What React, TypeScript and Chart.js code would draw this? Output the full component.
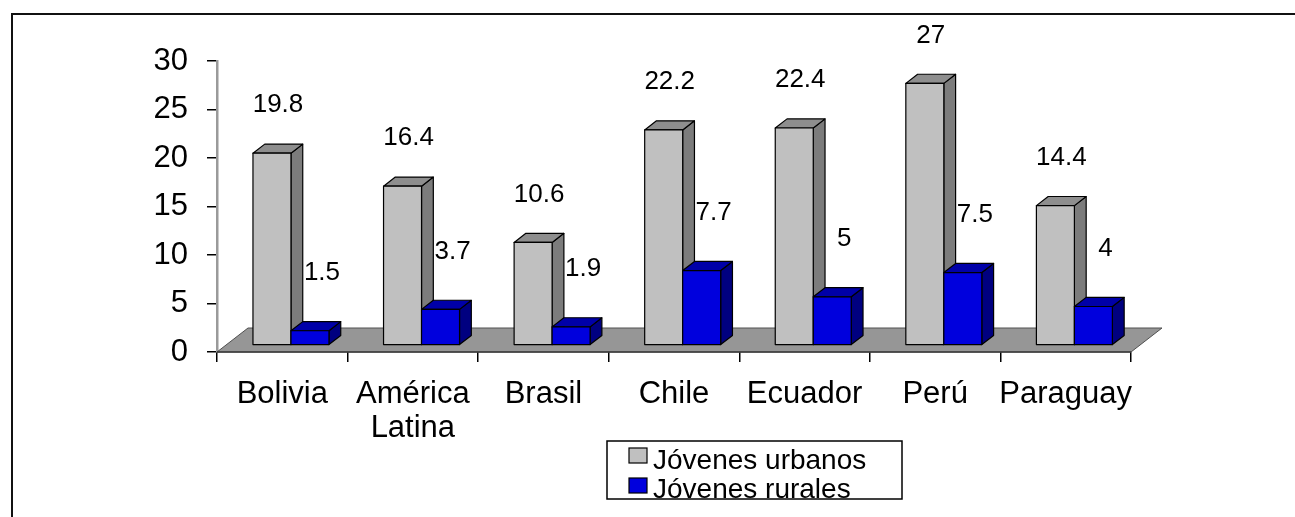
import React, { useEffect, useRef } from 'react';
import { Chart, registerables } from 'chart.js';

Chart.register(...registerables);

// ---- data ----
const categories: (string | string[])[] = ['Bolivia', ['América', 'Latina'], 'Brasil', 'Chile', 'Ecuador', 'Perú', 'Paraguay'];
const urbanos = [19.8, 16.4, 10.6, 22.2, 22.4, 27, 14.4];
const rurales = [1.5, 3.7, 1.9, 7.7, 5, 7.5, 4];
const yTicks = [0, 5, 10, 15, 20, 25, 30];
const seriesNames = ['Jóvenes urbanos', 'Jóvenes rurales'];

// ---- styling ----
const FONT = '"Liberation Sans", Arial, sans-serif';
const DEPTH_X = 31;
const DEPTH_Y = -24;
const BAR_FRONT = 0.28;
const BAR_DEPTH = 0.38;
const SHADES = [
  { front: '#C0C0C0', top: '#8E8E8E', side: '#7C7C7C' },
  { front: '#0000DD', top: '#0000A8', side: '#000080' },
];
const LABEL_RISE = [48, 58];
const LABEL_SHIFT = [6, 12];

function poly(ctx: CanvasRenderingContext2D, pts: number[][], fill: string) {
  ctx.beginPath();
  ctx.moveTo(pts[0][0], pts[0][1]);
  for (let i = 1; i < pts.length; i++) ctx.lineTo(pts[i][0], pts[i][1]);
  ctx.closePath();
  ctx.fillStyle = fill;
  ctx.fill();
  ctx.stroke();
}

const bars3d = {
  id: 'bars3d',
  beforeDraw(chart: any) {
    const ctx: CanvasRenderingContext2D = chart.ctx;
    ctx.save();
    ctx.fillStyle = '#ffffff';
    ctx.fillRect(0, 0, chart.width, chart.height);
    ctx.strokeStyle = '#111';
    ctx.lineWidth = 2;
    ctx.beginPath();
    ctx.moveTo(12, chart.height + 5);
    ctx.lineTo(12, 14);
    ctx.lineTo(chart.width + 5, 14);
    ctx.stroke();
    ctx.restore();
  },
  beforeDatasetsDraw(chart: any) {
    const ctx: CanvasRenderingContext2D = chart.ctx;
    const area = chart.chartArea;
    const y0 = chart.scales.y.getPixelForValue(0);
    ctx.save();
    // floor
    ctx.strokeStyle = '#505050';
    ctx.lineWidth = 1;
    poly(ctx, [
      [area.left, y0],
      [area.left + DEPTH_X, y0 + DEPTH_Y],
      [area.right + DEPTH_X, y0 + DEPTH_Y],
      [area.right, y0],
    ], '#969696');
    ctx.lineWidth = 1.5;
    ctx.strokeStyle = '#3a3a3a';
    ctx.beginPath();
    ctx.moveTo(area.left, y0);
    ctx.lineTo(area.right, y0);
    ctx.stroke();

    // bars
    const n = chart.data.labels.length;
    const fx = BAR_FRONT * DEPTH_X;
    const fy = BAR_FRONT * DEPTH_Y;
    const dx = BAR_DEPTH * DEPTH_X;
    const dy = BAR_DEPTH * DEPTH_Y;
    const labels: { x: number; y: number; text: string }[] = [];
    ctx.strokeStyle = '#000';
    ctx.lineWidth = 1.2;
    ctx.lineJoin = 'round';
    for (let i = 0; i < n; i++) {
      for (let d = 0; d < chart.data.datasets.length; d++) {
        const el = chart.getDatasetMeta(d).data[i];
        const p = el.getProps(['x', 'y', 'base', 'width'], true);
        const left = p.x - p.width / 2 + fx;
        const right = p.x + p.width / 2 + fx;
        const top = p.y + fy;
        const bottom = p.base + fy;
        const s = SHADES[d];
        poly(ctx, [[right, bottom], [right + dx, bottom + dy], [right + dx, top + dy], [right, top]], s.side);
        poly(ctx, [[left, top], [left + dx, top + dy], [right + dx, top + dy], [right, top]], s.top);
        poly(ctx, [[left, bottom], [left, top], [right, top], [right, bottom]], s.front);
        labels.push({
          x: (left + right) / 2 + LABEL_SHIFT[d],
          y: top - LABEL_RISE[d],
          text: String(chart.data.datasets[d].data[i]),
        });
      }
    }
    ctx.fillStyle = '#000';
    ctx.font = `26px ${FONT}`;
    ctx.textAlign = 'center';
    ctx.textBaseline = 'middle';
    labels.forEach((l) => ctx.fillText(l.text, l.x, l.y));
    ctx.restore();
    return false;
  },
  afterDraw(chart: any) {
    const ctx: CanvasRenderingContext2D = chart.ctx;
    ctx.save();
    // legend box
    const bx = 607, by = 441, bw = 295, bh = 58;
    ctx.strokeStyle = '#000';
    ctx.lineWidth = 1.5;
    ctx.strokeRect(bx, by, bw, bh);
    ctx.font = `28px ${FONT}`;
    ctx.textAlign = 'left';
    ctx.textBaseline = 'alphabetic';
    chart.data.datasets.forEach((ds: any, d: number) => {
      const sy = by + 7 + d * 30;
      ctx.fillStyle = SHADES[d].front;
      ctx.fillRect(bx + 22, sy, 18, 15);
      ctx.lineWidth = 1.2;
      ctx.strokeRect(bx + 22, sy, 18, 15);
      ctx.fillStyle = '#000';
      ctx.fillText(ds.label, bx + 46, by + 28 + d * 29);
    });
    ctx.restore();
  },
};

export default function App() {
  const ref = useRef<HTMLCanvasElement | null>(null);
  useEffect(() => {
    if (!ref.current) return;
    const chart = new Chart(ref.current, {
      type: 'bar',
      data: {
        labels: categories as any,
        datasets: [
          { label: seriesNames[0], data: urbanos, backgroundColor: SHADES[0].front },
          { label: seriesNames[1], data: rurales, backgroundColor: SHADES[1].front },
        ],
      },
      plugins: [bars3d],
      options: {
        animation: false,
        responsive: true,
        maintainAspectRatio: false,
        layout: { padding: { left: 0, top: 61, right: 164, bottom: 0 } },
        plugins: { legend: { display: false }, tooltip: { enabled: false } },
        datasets: { bar: { categoryPercentage: 0.582, barPercentage: 1 } },
        scales: {
          x: {
            grid: { drawOnChartArea: false, tickLength: 10, color: '#000', lineWidth: 1.5, offset: true },
            border: { display: false },
            ticks: {
              font: { family: FONT, size: 31, lineHeight: 1.08 },
              color: '#000',
              padding: 16,
              maxRotation: 0,
              autoSkip: false,
            },
            afterFit: (s: any) => { s.height = 165; },
          },
          y: {
            min: 0,
            max: 30,
            afterBuildTicks: (s: any) => { s.ticks = yTicks.map((v) => ({ value: v })); },
            ticks: { font: { family: FONT, size: 31 }, color: '#000', padding: 19 },
            grid: { drawOnChartArea: false, tickLength: 10, color: '#000', lineWidth: 1.5 },
            border: { display: true, color: '#9a9a9a', width: 2.5 },
            afterFit: (s: any) => { s.width = 217; },
          },
        },
      } as any,
    });
    return () => chart.destroy();
  }, []);
  return (
    <div style={{ position: 'fixed', left: 0, top: 0, width: 1295, height: 517, overflow: 'hidden', background: '#fff' }}>
      <canvas ref={ref} />
    </div>
  );
}
